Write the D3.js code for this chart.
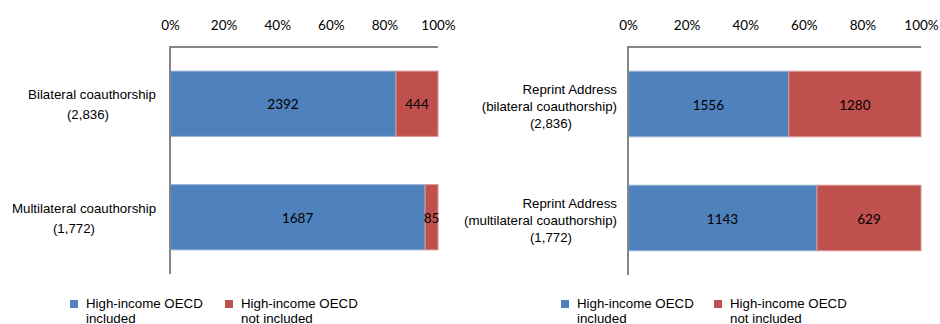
<!DOCTYPE html>
<html>
<head>
<meta charset="utf-8">
<script src="https://cdn.jsdelivr.net/npm/d3@7"></script>
<style>
  html, body { margin: 0; padding: 0; background: #fff; }
  svg { display: block; }
</style>
</head>
<body>
<svg id="chart" width="940" height="324"></svg>
<script>
// ---- data ----
const tickValues = [0, 0.2, 0.4, 0.6, 0.8, 1.0];
const seriesNames = [["High-income OECD", "included"], ["High-income OECD", "not included"]];

const leftCategories = [
  ["Bilateral coauthorship", "(2,836)"],
  ["Multilateral coauthorship", "(1,772)"]
];
const leftIncluded = [2392, 1687];
const leftNotIncluded = [444, 85];

const rightCategories = [
  ["Reprint Address", "(bilateral coauthorship)", "(2,836)"],
  ["Reprint Address", "(multilateral coauthorship)", "(1,772)"]
];
const rightIncluded = [1556, 1143];
const rightNotIncluded = [1280, 629];

const colors = ["#4F81BD", "#C0504D"];
const strokes = ["#95B3D7", "#D99694"];

const svg = d3.select("#chart");
const labelFont = "'Liberation Sans', Arial, sans-serif";
const numFont = "Lato, 'Open Sans', sans-serif";

function panel(cfg) {
  const g = svg.append("g");
  const x = d3.scaleLinear().domain([0, 1]).range([cfg.x0, cfg.x1]);
  const idx = cfg.categories.map((d, i) => i);
  const y = d3.scaleBand().domain(idx).range([cfg.y0, cfg.y1]).paddingInner(0.425).paddingOuter(0.2125);

  // tick labels on top
  const axis = d3.axisTop(x).tickValues(tickValues).tickFormat(d3.format(".0%")).tickSize(0).tickPadding(0);
  const ag = g.append("g").attr("transform", `translate(0,${cfg.tickY})`).call(axis);
  ag.select(".domain").remove();
  ag.selectAll("text")
    .attr("font-family", numFont)
    .attr("font-size", 13.5)
    .attr("fill", "#000")
    .attr("dy", "0.35em");

  // stacked bars
  const rows = idx.map(i => {
    const a = cfg.inc[i], b = cfg.notInc[i], t = a + b;
    return [
      { i, k: 0, v: a, s: 0, e: a / t },
      { i, k: 1, v: b, s: a / t, e: 1 }
    ];
  }).flat();

  g.selectAll("rect.bar").data(rows).enter().append("rect")
    .attr("class", "bar")
    .attr("x", d => x(d.s))
    .attr("y", d => y(d.i))
    .attr("width", d => x(d.e) - x(d.s))
    .attr("height", y.bandwidth())
    .attr("fill", d => colors[d.k])
    .attr("stroke", d => strokes[d.k])
    .attr("stroke-width", 1);

  g.selectAll("text.val").data(rows).enter().append("text")
    .attr("class", "val")
    .attr("x", d => (x(d.s) + x(d.e)) / 2)
    .attr("y", d => y(d.i) + y.bandwidth() / 2 + 1)
    .attr("dy", "0.35em")
    .attr("text-anchor", "middle")
    .attr("font-family", numFont)
    .attr("font-size", 13.5)
    .attr("fill", "#000")
    .text(d => d.v);

  // axis lines
  g.append("line").attr("x1", x(0)).attr("x2", x(0)).attr("y1", cfg.y0 - 1).attr("y2", cfg.y1)
    .attr("stroke", "#868686").attr("stroke-width", 2);
  g.append("line").attr("x1", x(0) - 1).attr("x2", x(1)).attr("y1", cfg.y0).attr("y2", cfg.y0)
    .attr("stroke", "#868686").attr("stroke-width", 2);

  // category labels
  cfg.categories.forEach((lines, i) => {
    const cy = y(i) + y.bandwidth() / 2;
    const n = lines.length;
    lines.forEach((t, j) => {
      const lx = cfg.labelX(i, j, n);
      g.append("text")
        .attr("x", lx.x)
        .attr("y", cy + (j - (n - 1) / 2) * cfg.lineH + cfg.labelDy)
        .attr("dy", "0.35em")
        .attr("text-anchor", lx.anchor)
        .attr("font-family", labelFont)
        .attr("font-size", 13.3)
        .attr("fill", "#000")
        .text(t);
    });
  });

  // legend
  seriesNames.forEach((lines, k) => {
    const lx = cfg.legendX[k];
    g.append("rect").attr("x", lx).attr("y", 300).attr("width", 8).attr("height", 8).attr("fill", colors[k]);
    lines.forEach((t, j) => {
      g.append("text")
        .attr("x", lx + 16)
        .attr("y", 303 + j * 15)
        .attr("dy", "0.35em")
        .attr("font-family", labelFont)
        .attr("font-size", 13.3)
        .attr("fill", "#000")
        .text(t);
    });
  });
}

panel({
  x0: 170, x1: 438, y0: 47, y1: 274, tickY: 25,
  categories: leftCategories, inc: leftIncluded, notInc: leftNotIncluded,
  lineH: 20, labelDy: 1,
  labelX: (i, j, n) => ({ x: j === 0 ? (i === 0 ? 92 : 84) : (i === 0 ? 88 : 74), anchor: "middle" }),
  legendX: [70, 225]
});

panel({
  x0: 628, x1: 921, y0: 47, y1: 275, tickY: 25,
  categories: rightCategories, inc: rightIncluded, notInc: rightNotIncluded,
  lineH: 17, labelDy: 2,
  labelX: (i, j, n) => (j < 2 ? { x: 617, anchor: "end" } : { x: 551, anchor: "middle" }),
  legendX: [561, 714]
});
</script>
</body>
</html>
